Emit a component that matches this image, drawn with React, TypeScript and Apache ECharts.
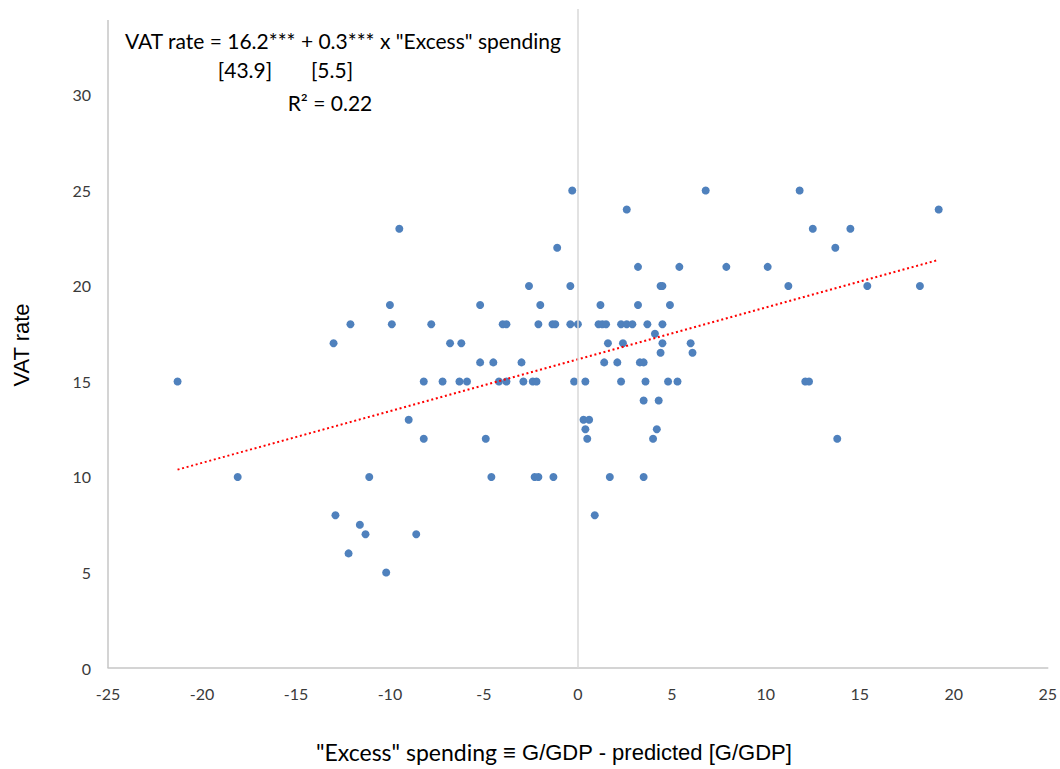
import React, { useEffect, useRef } from "react";
import * as echarts from "echarts";

// "Excess" spending (G/GDP minus predicted G/GDP), one entry per country
const excessSpending: number[] = [
  -0.3, 6.8, 11.8,
  2.6, 19.2,
  -9.5, 12.5, 14.5,
  -1.1, 13.7,
  3.2, 5.4, 7.9, 10.1,
  -2.6, -0.4, 4.4, 4.5, 11.2, 15.4, 18.2,
  -10.0, -5.2, -2.0, 1.2, 3.2, 4.9,
  -12.1, -9.9, -7.8, -4.0, -3.8, -2.1, -1.35, -1.2, -0.4, 0.0, 1.1, 1.3, 1.5, 2.3, 2.6, 2.9, 3.7, 4.5,
  4.1,
  -13.0, -6.8, -6.2, 1.6, 2.4, 4.5, 6.0,
  4.4, 6.1,
  -5.2, -4.5, -3.0, 1.4, 2.1, 3.3, 3.5,
  -21.3, -8.2, -7.2, -6.3, -5.9, -4.2, -3.8, -2.9, -2.4, -2.2, -0.2, 0.4, 2.3, 3.6, 4.8, 5.3, 12.1, 12.3,
  3.5, 4.3,
  -9.0, 0.3, 0.6,
  0.4, 4.2,
  -8.2, -4.9, 0.5, 4.0, 13.8,
  -18.1, -11.1, -4.6, -2.3, -2.1, -1.3, 1.7, 3.5,
  -12.9, 0.9,
  -11.6,
  -11.3, -8.6,
  -12.2,
  -10.2,
];

// Standard VAT rate (%) for the same countries, in the same order
const vatRate: number[] = [
  25, 25, 25,
  24, 24,
  23, 23, 23,
  22, 22,
  21, 21, 21, 21,
  20, 20, 20, 20, 20, 20, 20,
  19, 19, 19, 19, 19, 19,
  18, 18, 18, 18, 18, 18, 18, 18, 18, 18, 18, 18, 18, 18, 18, 18, 18, 18,
  17.5,
  17, 17, 17, 17, 17, 17, 17,
  16.5, 16.5,
  16, 16, 16, 16, 16, 16, 16,
  15, 15, 15, 15, 15, 15, 15, 15, 15, 15, 15, 15, 15, 15, 15, 15, 15, 15,
  14, 14,
  13, 13, 13,
  12.5, 12.5,
  12, 12, 12, 12, 12,
  10, 10, 10, 10, 10, 10, 10, 10,
  8, 8,
  7.5,
  7, 7,
  6,
  5,
];

const xTicks = [-25, 25, 5];
const yTicks = [0, 34.5, 5];

const equationLine = 'VAT rate = 16.2*** + 0.3*** x "Excess" spending';
const interceptT = "[43.9]";
const slopeT = "[5.5]";
const rSquared = "R\u00B2 = 0.22";

// Least-squares fit of VAT rate on excess spending
function linearFit(xs: number[], ys: number[]) {
  const n = xs.length;
  const mx = xs.reduce((s, v) => s + v, 0) / n;
  const my = ys.reduce((s, v) => s + v, 0) / n;
  let sxy = 0;
  let sxx = 0;
  for (let i = 0; i < n; i++) {
    sxy += (xs[i] - mx) * (ys[i] - my);
    sxx += (xs[i] - mx) * (xs[i] - mx);
  }
  const slope = sxy / sxx;
  return { slope, intercept: my - slope * mx };
}

export default function App() {
  const ref = useRef<HTMLDivElement>(null);

  useEffect(() => {
    if (!ref.current) return;
    const chart = echarts.init(ref.current, undefined, { renderer: "svg" });

    const points = excessSpending.map((x, i) => [x, vatRate[i]]);
    const fit = linearFit(excessSpending, vatRate);
    const xMin = Math.min(...excessSpending);
    const xMax = Math.max(...excessSpending);
    const trend = [
      [xMin, fit.intercept + fit.slope * xMin],
      [xMax, fit.intercept + fit.slope * xMax],
    ];

    const labelFont = "Lato";
    const arial = "Liberation Sans";

    const plainText = (text: string, x: number, y: number) => ({
      type: "text",
      x,
      y,
      style: {
        text,
        fontFamily: labelFont,
        fontSize: 21,
        fill: "#000000",
        textAlign: "center",
        textVerticalAlign: "middle",
      },
    });

    chart.setOption({
      animation: false,
      backgroundColor: "#ffffff",
      grid: { left: 108, right: 11, top: 9, bottom: 101 },
      xAxis: {
        type: "value",
        min: xTicks[0],
        max: xTicks[1],
        interval: xTicks[2],
        axisLine: { show: true, onZero: false, lineStyle: { color: "#c6c6c6", width: 1.5 } },
        axisTick: { show: false },
        splitLine: { show: false },
        axisLabel: { color: "#3a3a3a", fontSize: 16, fontFamily: labelFont, margin: 17 },
      },
      yAxis: {
        type: "value",
        min: yTicks[0],
        max: yTicks[1],
        interval: yTicks[2],
        axisLine: { show: false },
        axisTick: { show: false },
        splitLine: { show: false },
        axisLabel: {
          color: "#3a3a3a",
          fontSize: 16,
          fontFamily: labelFont,
          margin: 17,
          showMaxLabel: false,
          formatter: (v: number) => (v % 5 === 0 ? String(v) : ""),
        },
      },
      series: [
        {
          type: "line",
          data: [],
          silent: true,
          clip: false,
          markLine: {
            silent: true,
            symbol: "none",
            label: { show: false },
            data: [
              { xAxis: 0, lineStyle: { color: "#d9d9d9", width: 1.5, type: "solid" } },
              [
                { coord: [xTicks[0], 0] },
                { coord: [xTicks[0], 33.93] },
              ],
            ],
            lineStyle: { color: "#c6c6c6", width: 1.5, type: "solid" },
          },
        },
        {
          type: "scatter",
          data: points,
          symbol: "circle",
          symbolSize: 8,
          itemStyle: { color: "#4F81BD", opacity: 1 },
        },
        {
          type: "line",
          data: trend,
          symbol: "none",
          silent: true,
          lineStyle: { color: "#FF0000", width: 2, type: [2, 2.7] },
        },
      ],
      graphic: [
        {
          type: "text",
          x: 343,
          y: 40,
          style: {
            text: equationLine,
            fontFamily: labelFont,
            fontSize: 21,
            fill: "#000000",
            textAlign: "center",
            textVerticalAlign: "middle",
          },
        },
        plainText(interceptT, 245, 69),
        plainText(slopeT, 332, 69),
        plainText(rSquared, 330, 102),
        {
          type: "text",
          x: 21,
          y: 345,
          rotation: Math.PI / 2,
          style: {
            text: "VAT rate",
            fontFamily: arial,
            fontSize: 22,
            fill: "#000000",
            textAlign: "center",
            textVerticalAlign: "middle",
          },
        },
        {
          type: "text",
          x: 554,
          y: 752,
          style: {
            text: '{a|"Excess" spending }{b|\u2261 G/GDP - predicted [G/GDP]}',
            textAlign: "center",
            textVerticalAlign: "middle",
            rich: {
              a: { fontFamily: labelFont, fontSize: 23, fill: "#000000" },
              b: { fontFamily: arial, fontSize: 22, fill: "#000000" },
            },
          },
        },
      ],
    });

    return () => chart.dispose();
  }, []);

  return (
    <div
      ref={ref}
      style={{ position: "absolute", left: 0, top: 0, width: 1060, height: 769 }}
    />
  );
}
